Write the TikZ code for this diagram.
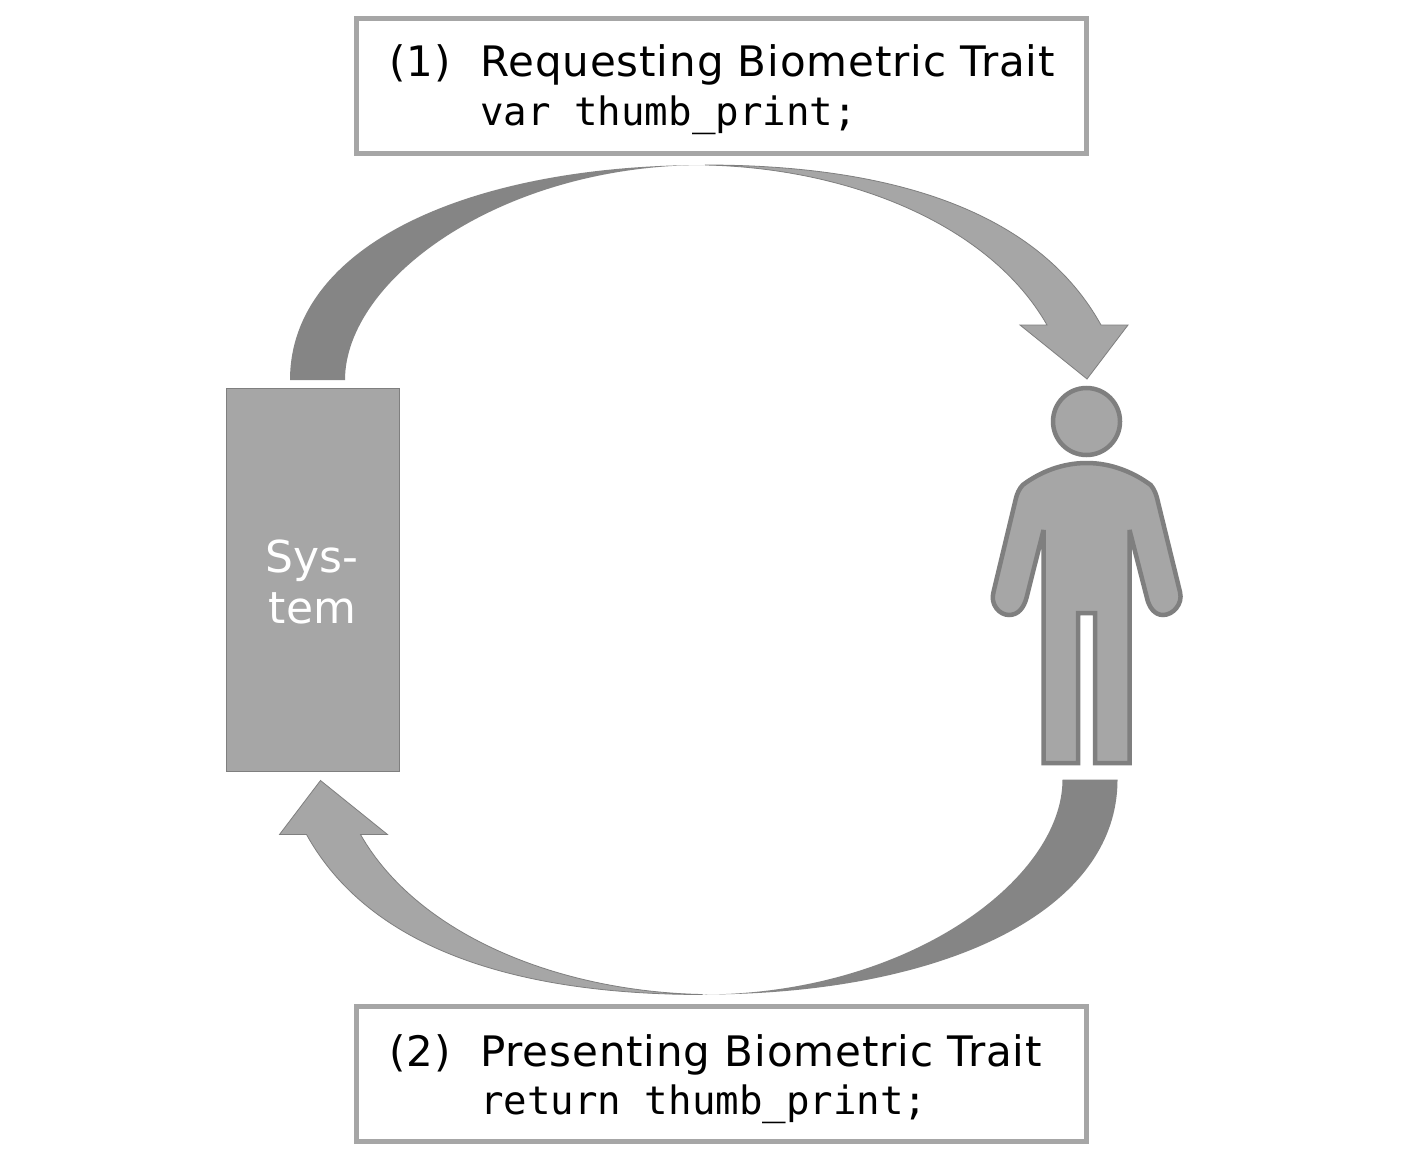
\documentclass[tikz,border=0pt]{standalone}
\usepackage{fontspec}
\setmainfont{DejaVu Sans}
\newfontfamily\titlefont[LetterSpace=2.1]{DejaVu Sans}
\newfontfamily\codefont{DejaVu Sans Mono}
\definecolor{lightg}{HTML}{A6A6A6}
\definecolor{darkg}{HTML}{858585}
\definecolor{lineg}{HTML}{7F7F7F}
\newcommand{\arrowshape}{%
  \fill[darkg] (290,380) .. controls (290,245) and (470,165) .. (705,165)
     .. controls (500,165) and (345,280) .. (345,380) -- cycle;
  \draw[lineg,line width=.8pt,fill=lightg,line join=miter] (705,165)
     .. controls (900,165) and (1040,215) .. (1101,325) -- (1128,325) -- (1087,379) -- (1020,325) -- (1047,325)
     .. controls (990,225) and (850,168) .. (705,165) -- cycle;
}
\tikzset{
  labelbox/.style={draw=lightg,line width=5pt,minimum width=730pt,minimum height=135pt,inner sep=0pt,fill=white},
  titletext/.style={anchor=base west,inner sep=0pt,font=\titlefont\fontsize{42}{50}\selectfont},
  codetext/.style={anchor=base west,inner sep=0pt,font=\codefont\fontsize{39.1}{46}\selectfont},
  systembox/.style={draw=lineg,line width=1pt,fill=lightg,minimum width=173pt,minimum height=383pt,inner sep=0pt},
  systemtext/.style={anchor=base,inner sep=0pt,text=white,font=\fontsize{44}{52}\selectfont},
  person/.style={draw=lineg,line width=4.5pt,fill=lightg,line join=miter,miter limit=2}
}
\begin{document}
\begin{tikzpicture}[x=1pt,y=-1pt]
\useasboundingbox (0,0) rectangle (1420,1166);
\fill[white] (0,0) rectangle (1420,1166);
% boxes
\node[labelbox] (topbox) at (721.5,86) {};
\node[labelbox] (botbox) at (721.5,1074) {};
\node[titletext] (n1) at (389,77) {(1)};
\node[titletext] (t1) at (480,77) {Requesting Biometric Trait};
\node[codetext] (c1) at (480,126) {var thumb\_print;};
\node[titletext] (n2) at (389,1066) {(2)};
\node[titletext] (t2) at (480,1066) {Presenting Biometric Trait};
\node[codetext] (c2) at (480,1114) {return thumb\_print;};
% system
\node[systembox] (system) at (313,580) {};
\node[systemtext] (s1) at (312,572) {Sys-};
\node[systemtext] (s2) at (312.5,623) {tem};
% arrows
\arrowshape
\begin{scope}[shift={(1407.5,1159.5)},xscale=-1,yscale=-1]
\arrowshape
\end{scope}
% person
\draw[person] (1086.5,421.5) circle[radius=33.5];
\draw[person] (1086.7,463) .. controls (1062,463) and (1040,472) .. (1022.7,485)
  .. controls (1019,489) and (1017,494) .. (1016,498)
  -- (993.5,592) .. controls (990,604) and (999,615) .. (1009,615)
  .. controls (1018,615) and (1024,608) .. (1026.7,597)
  -- (1043.5,530) -- (1043.5,763) -- (1078,763) -- (1078,613) -- (1095,613) -- (1095,763) -- (1129.5,763) -- (1129.5,530)
  -- (1146.7,597) .. controls (1149,608) and (1155,615) .. (1163,615)
  .. controls (1173,615) and (1183,604) .. (1180,592)
  -- (1157,498) .. controls (1156,494) and (1154,489) .. (1150.7,485)
  .. controls (1133,472) and (1111,463) .. (1086.7,463) -- cycle;
\end{tikzpicture}
\end{document}
